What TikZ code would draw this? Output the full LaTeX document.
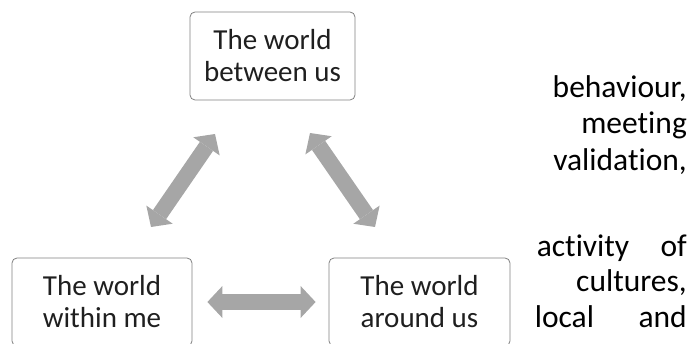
\documentclass[tikz,border=0pt]{standalone}
\usepackage{fontspec}
\setmainfont{Carlito}[Ligatures=NoCommon]
\usetikzlibrary{arrows.meta}
\colorlet{world border color}{black!50}
\colorlet{world arrow color}{black!35}
\tikzset{
    x={1pt},
    y={-1pt},
    world box/.style={
        draw=world border color,
        rounded corners={5pt},
        line width={0.8pt},
        align=center,
        text=black!88,
        font={\fontsize{29}{32}\selectfont},
        inner sep=0pt,
        minimum width={#1},
        minimum height={88pt},
    },
    world box/.default={180pt},
    exchange/.style={
        draw=world arrow color,
        line width={16pt},
        {Triangle[length=15pt,width=32pt,line width=0pt]}-{Triangle[length=15pt,width=32pt,line width=0pt]},
    },
    side text/.style={
        anchor=base east,
        inner sep=0pt,
        font={\fontsize{31.5}{36}\selectfont},
    },
}

\begin{document}
\begin{tikzpicture}
\useasboundingbox (0,0) rectangle (698,344);
% boxes
\node[world box={165pt}] (between) at (272.5,56) {The world\\between us};
\node[world box={180pt}] (within) at (102,302) {The world\\within me};
\node[world box={181pt}] (around) at (419.5,302) {The world\\around us};
% arrow ends
\coordinate (within end) at (151,227);
\coordinate (between left end) at (215,134);
\coordinate (between right end) at (310,133);
\coordinate (around end) at (375,227);
% arrows
\draw[exchange] (within end) -- (between left end);
\draw[exchange] (between right end) -- (around end);
\draw[exchange, shorten <=15pt, shorten >=13pt] (within.east) -- (around.west);
% text at the right
\node[side text] (line1) at (687,98) {behaviour,};
\node[side text] (line2) at (687,134) {meeting};
\node[side text] (line3) at (687,171) {validation,};
\node[side text] (line4) at (687,257) {\makebox[150pt][s]{activity of}};
\node[side text] (line5) at (687,291) {cultures,};
\node[side text] (line6) at (687,327) {\makebox[152pt][s]{local and}};
\end{tikzpicture}
\end{document}
